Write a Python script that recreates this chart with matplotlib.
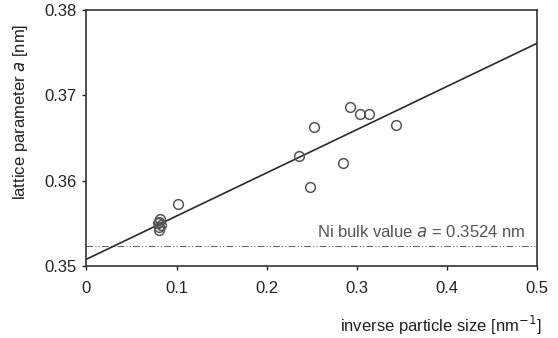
import matplotlib
matplotlib.use("Agg")
import matplotlib.pyplot as plt
import numpy as np

plt.rcParams['font.family'] = ['Liberation Sans', 'DejaVu Sans']

inv_size = [0.082, 0.080, 0.079, 0.081, 0.080, 0.083, 0.1017, 0.2365, 0.2483, 0.2531,
            0.2853, 0.2928, 0.3039, 0.3142, 0.3435]
lattice = [0.3555, 0.3552, 0.3550, 0.3546, 0.3542, 0.3548, 0.3573, 0.3629, 0.3593, 0.3663,
           0.3621, 0.3686, 0.3678, 0.3678, 0.3665]
fit_x = [0.0, 0.5]
fit_intercept = 0.3508
fit_slope = 0.0506
ni_bulk = 0.3524
xticks = [0, 0.1, 0.2, 0.3, 0.4, 0.5]
xticklabels = ['0', '0.1', '0.2', '0.3', '0.4', '0.5']
yticks = [0.35, 0.36, 0.37, 0.38]
yticklabels = ['0.35', '0.36', '0.37', '0.38']

fig = plt.figure(figsize=(5.58, 3.38), dpi=100)
ax = fig.add_axes([0.155, 0.213, 0.807, 0.757])

fx = np.array(fit_x)
ax.plot(fx, fit_intercept + fit_slope * fx, color='#2a2a2a', lw=1.2, zorder=2)
ax.axhline(ni_bulk, color='#666666', lw=0.8, linestyle=(0, (6, 2, 1, 2, 1, 2)), zorder=1)
ax.plot(inv_size, lattice, linestyle='none', marker='o', markersize=7,
        markerfacecolor='none', markeredgecolor='#555555', markeredgewidth=1.1, zorder=3)

ax.text(0.487, ni_bulk + 0.0006, 'Ni bulk value $\\it{a}$ = 0.3524 nm',
        ha='right', va='bottom', fontsize=12, color='#555555')

ax.set_xlim(0, 0.5)
ax.set_ylim(0.35, 0.38)
ax.set_xticks(xticks)
ax.set_xticklabels(xticklabels)
ax.set_yticks(yticks)
ax.set_yticklabels(yticklabels)
ax.tick_params(direction='out', length=3, width=1, labelsize=12, colors='#222222')
ax.tick_params(axis='x', pad=8)
ax.tick_params(axis='y', pad=4)
for s in ax.spines.values():
    s.set_linewidth(1.2)
    s.set_color('#333333')

fig.text(0.036, (338 - 112) / 338, 'lattice parameter $\\it{a}$ [nm]', rotation=90,
         ha='center', va='center', fontsize=12, color='#222222')
fig.text(0.97, (338 - 325) / 338, 'inverse particle size [nm$^{-1}$]', ha='right', va='center',
         fontsize=12, color='#222222')

fig.savefig('out.png', dpi=100)
